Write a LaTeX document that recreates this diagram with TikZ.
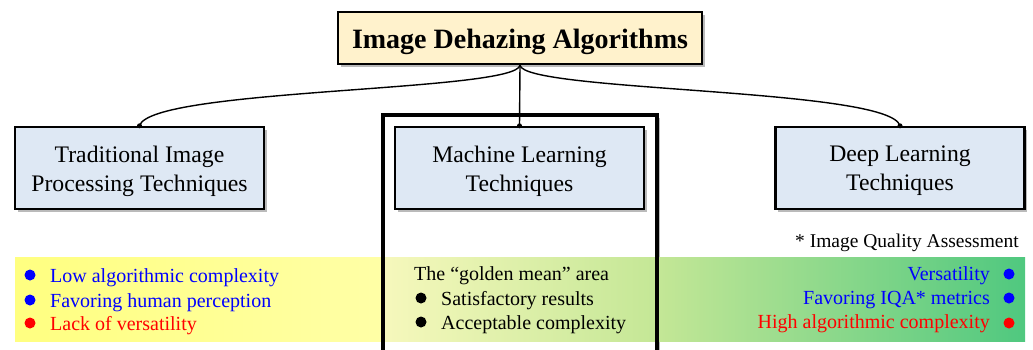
\documentclass[tikz,border=0pt]{standalone}
\usepackage{fontspec}
\setmainfont{Liberation Serif}
\usetikzlibrary{shadows}
\definecolor{titlefill}{HTML}{FFF2CC}
\definecolor{boxfill}{HTML}{DEE8F4}
\definecolor{yelA}{HTML}{FFFF80}
\definecolor{yelB}{HTML}{FFFFA6}
\definecolor{yelC}{HTML}{F6F8BC}
\definecolor{grnA}{HTML}{C4E796}
\definecolor{grnB}{HTML}{4FC87F}
\tikzset{
  shadowed/.style={drop shadow={shadow xshift=2.5pt, shadow yshift=-2.5pt, fill=black!45, opacity=0.6}},
  titlebox/.style={draw, line width=2.4pt, fill=titlefill, shadowed, minimum width=364pt, minimum height=52pt, inner sep=0pt},
  titletxt/.style={inner sep=0pt, font=\fontsize{28}{34}\selectfont\bfseries},
  techbox/.style={draw, line width=2.4pt, fill=boxfill, shadowed, minimum width=249pt, minimum height=82pt, inner sep=0pt},
  techtxt/.style={inner sep=0pt, align=center, font=\fontsize{23.7}{29}\selectfont},
  bandtxt/.style={inner sep=0pt, font=\fontsize{20}{24}\selectfont},
  bullet/.style={circle, inner sep=0pt, minimum size=11pt},
  joint/.style={circle, fill=black, inner sep=0pt, minimum size=5pt},
  link/.style={line width=1.4pt}
}
\begin{document}
\begin{tikzpicture}[x=1pt, y=-1pt]
\useasboundingbox (0,0) rectangle (1033,349);
\begin{scope}
\clip (0,0) rectangle (1033,349);
% frame of the middle column: shadow and white fill first
\fill[white, shadowed] (383,115) rectangle (657,370);
% coloured band
\shade[left color=yelA, right color=yelB] (15,257) rectangle (383,341);
\shade[left color=yelC, right color=grnA] (383,257) rectangle (657,341);
\shade[left color=grnA, right color=grnB] (657,257) rectangle (1025,341);
% frame border over the band
\draw[line width=4pt] (383,115) rectangle (657,370);
\end{scope}

% main boxes
\node[titlebox] (title) at (520,38) {};
\node[titletxt, anchor=base] (titlelabel) at (520,48) {Image Dehazing Algorithms};
\node[techbox] (trad) at (139.5,168) {};
\node[techbox] (ml) at (519.5,168) {};
\node[techbox] (dl) at (900,168) {};
\node[techtxt] (tradlabel) at ([yshift=-3pt]trad.center) {Traditional Image\\Processing Techniques};
\node[techtxt] (mllabel) at ([yshift=-3pt]ml.center) {Machine Learning\\Techniques};
\node[techtxt] (dllabel) at ([yshift=-3pt]dl.center) {Deep Learning\\Techniques};

% connectors
\coordinate (split) at (title.south);
\draw[link] (split) .. controls (516,92) and (150,88) .. (trad.north);
\draw[link] (split) .. controls (524,92) and (890,88) .. (dl.north);
\draw[link] (split) -- (ml.north);
\node[joint] at (trad.north) {};
\node[joint] at (ml.north) {};
\node[joint] at (dl.north) {};

% footnote
\node[bandtxt, anchor=base east, font=\fontsize{19.5}{24}\selectfont] (note) at (1019,247) {* Image Quality Assessment};

% left list
\node[bullet, fill=blue] (lb1) at (30,275) {};
\node[bullet, fill=blue] (lb2) at (30,300) {};
\node[bullet, fill=red] (lb3) at (30,323) {};
\node[bandtxt, anchor=base west, text=blue] (lt1) at (50,282) {Low algorithmic complexity};
\node[bandtxt, anchor=base west, text=blue] (lt2) at (50,307) {Favoring human perception};
\node[bandtxt, anchor=base west, text=red] (lt3) at (50,330) {Lack of versatility};

% middle list
\node[bandtxt, anchor=base west] (mt0) at (414,280) {The “golden mean” area};
\node[bullet, fill=black] (mb1) at (421,298) {};
\node[bullet, fill=black] (mb2) at (421,322) {};
\node[bandtxt, anchor=base west] (mt1) at (441,305) {Satisfactory results};
\node[bandtxt, anchor=base west] (mt2) at (441,329) {Acceptable complexity};

% right list
\node[bullet, fill=blue] (rb1) at (1009,274) {};
\node[bullet, fill=blue] (rb2) at (1009,298) {};
\node[bullet, fill=red] (rb3) at (1009,323) {};
\node[bandtxt, anchor=base east, text=blue] (rt1) at (990,280) {Versatility};
\node[bandtxt, anchor=base east, text=blue] (rt2) at (990,304) {Favoring IQA* metrics};
\node[bandtxt, anchor=base east, text=red] (rt3) at (990,328) {High algorithmic complexity};
\end{tikzpicture}
\end{document}
